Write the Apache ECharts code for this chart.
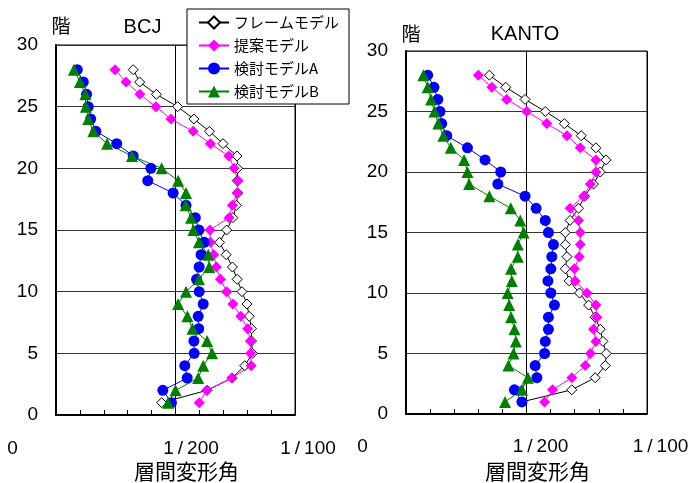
<!DOCTYPE html>
<html>
<head>
<meta charset="utf-8">
<script src="https://cdn.jsdelivr.net/npm/echarts@6/dist/echarts.min.js"></script>
<style>
  html, body { margin: 0; padding: 0; background: #fff; }
  #chart { width: 689px; height: 483px; }
</style>
</head>
<body>
<div id="chart"></div>
<script>
// 階 (floor numbers)
const floors = [1, 2, 3, 4, 5, 6, 7, 8, 9, 10, 11, 12, 13, 14, 15, 16, 17, 18, 19, 20, 21, 22, 23, 24, 25, 26, 27, 28];

const seriesNames = ['フレームモデル', '提案モデル', '検討モデルA', '検討モデルB'];
const panelTitles = ['BCJ', 'KANTO'];
const xTickLabels = ['0', '1/200', '1/100'];

// 層間変形角 in units of 1/1000 rad, floor 1 → 28
// BCJ input motion
const bcjFrame    = [4.42, 6.32, 7.37, 7.90, 8.22, 8.18, 8.18, 8.08, 7.99, 7.78, 7.58, 7.38, 7.12, 6.84, 7.14, 7.40, 7.55, 7.60, 7.58, 7.60, 7.57, 6.99, 6.42, 5.77, 5.09, 4.20, 3.50, 3.23];
const bcjProposed = [5.99, 6.31, 7.35, 8.17, 8.14, 8.13, 8.02, 7.73, 7.40, 7.14, 6.88, 6.71, 6.60, 6.46, 6.44, 7.24, 7.38, 7.58, 7.62, 7.45, 7.23, 6.46, 5.74, 4.81, 4.18, 3.51, 2.93, 2.47];
const bcjModelA   = [4.83, 4.47, 5.49, 5.39, 5.78, 5.77, 5.97, 5.95, 6.16, 5.99, 5.88, 5.99, 6.07, 6.20, 5.98, 5.83, 5.44, 4.90, 3.84, 3.97, 3.23, 2.54, 1.67, 1.45, 1.35, 1.28, 1.14, 0.89];
const bcjModelB   = [4.69, 5.00, 5.95, 6.16, 6.53, 6.32, 5.71, 5.50, 5.11, 5.44, 5.98, 6.41, 6.37, 5.98, 5.75, 5.65, 5.43, 5.44, 5.11, 4.42, 3.18, 2.14, 1.56, 1.35, 1.25, 1.23, 1.00, 0.75];

// KANTO input motion
const kantoFrame    = [4.81, 6.88, 7.85, 8.27, 8.31, 8.17, 8.06, 7.85, 7.58, 7.20, 6.77, 6.61, 6.68, 6.61, 6.61, 6.81, 7.16, 7.41, 7.78, 8.06, 8.30, 7.88, 7.27, 6.57, 5.78, 4.94, 4.14, 3.46];
const kantoProposed = [5.75, 6.08, 6.88, 7.44, 7.65, 7.88, 7.78, 7.92, 7.88, 7.51, 7.02, 6.99, 7.19, 7.23, 7.23, 7.16, 6.81, 7.37, 7.65, 7.88, 7.88, 7.23, 6.68, 5.84, 5.01, 4.18, 3.56, 3.00];
const kantoModelA   = [4.81, 4.50, 5.43, 5.36, 5.75, 5.78, 5.91, 5.91, 6.16, 6.01, 5.89, 6.01, 6.05, 6.12, 5.91, 5.78, 5.40, 4.94, 3.81, 3.93, 3.28, 2.55, 1.69, 1.48, 1.41, 1.32, 1.16, 0.90];
const kantoModelB   = [4.11, 4.81, 5.06, 4.25, 4.46, 4.56, 4.50, 4.36, 4.28, 4.22, 4.39, 4.36, 4.64, 4.64, 4.88, 4.74, 4.35, 3.46, 2.62, 2.55, 2.41, 1.86, 1.55, 1.34, 1.18, 1.04, 0.90, 0.72];

const LATIN = 'Liberation Sans, Arial, sans-serif';
const CJK = 'Noto Sans CJK JP, sans-serif';

const pairs = (values) => floors.map((f, i) => [values[i], f]);

const seriesStyles = [
  { symbol: 'diamond', symbolSize: 10, itemStyle: { color: '#ffffff', borderColor: '#000000', borderWidth: 1 }, lineStyle: { color: '#000000', width: 1 } },
  { symbol: 'diamond', symbolSize: 11, itemStyle: { color: '#ff00ff' }, lineStyle: { color: '#ff00ff', width: 1 } },
  { symbol: 'circle', symbolSize: 11, itemStyle: { color: '#0000ff' }, lineStyle: { color: '#0000ff', width: 1 } },
  { symbol: 'triangle', symbolSize: 12, itemStyle: { color: '#008000' }, lineStyle: { color: '#008000', width: 1 } }
];

const panels = [
  [bcjFrame, bcjProposed, bcjModelA, bcjModelB],
  [kantoFrame, kantoProposed, kantoModelA, kantoModelB]
];

const grids = [
  { left: 56, top: 45, width: 239, height: 370 },
  { left: 406, top: 51, width: 241, height: 363 }
];

function makeXAxis(gridIndex) {
  return {
    gridIndex, type: 'value', min: 0, max: 10, interval: 5,
    axisLine: { show: true, lineStyle: { color: '#000', width: 2 } },
    axisTick: { show: true, inside: true, length: 5, lineStyle: { color: '#000' } },
    minorTick: { show: true, splitNumber: 5, length: 5, lineStyle: { color: '#000' } },
    axisLabel: { show: false },
    splitLine: { show: true, lineStyle: { color: '#000', width: 1 } }
  };
}

function makeYAxis(gridIndex) {
  return {
    gridIndex, type: 'value', min: 0, max: 30, interval: 5,
    axisLine: { show: true, lineStyle: { color: '#000', width: 2 } },
    axisTick: { show: false },
    axisLabel: { show: true, margin: 18, fontSize: 19, fontFamily: LATIN, color: '#000', padding: [5, 0, 0, 0] },
    splitLine: { show: true, lineStyle: { color: '#333', width: 1 } }
  };
}

const series = [];
panels.forEach((panel, p) => {
  panel.forEach((values, s) => {
    series.push(Object.assign({
      name: seriesNames[s], type: 'line',
      xAxisIndex: p, yAxisIndex: p,
      data: pairs(values),
      showAllSymbol: true
    }, seriesStyles[s]));
  });
});

const text = (x, y, str, size, family) => ({
  type: 'text', x, y, z: 10,
  style: { text: str, fontSize: size, fontFamily: family, fill: '#000', align: 'center', verticalAlign: 'middle' }
});

// Fraction tick labels: the slash gets a little breathing room on each side
const tickText = (x, y, str) => {
  const parts = str.split('/');
  const rich = {
    n: { fontSize: 19, fontFamily: LATIN, fill: '#000' },
    s: { fontSize: 19, fontFamily: LATIN, fill: '#000', padding: [0, 4, 0, 4] }
  };
  const content = parts.length === 2 ? '{n|' + parts[0] + '}{s|/}{n|' + parts[1] + '}' : '{n|' + str + '}';
  return {
    type: 'text', x, y, z: 10,
    style: { text: content, rich, fontSize: 19, fontFamily: LATIN, fill: '#000', align: 'center', verticalAlign: 'middle' }
  };
};

const xLabelPos = [
  [[12.5, 449], [191, 449], [308, 449]],
  [[362.5, 447], [540.5, 447], [660.5, 447]]
];

const graphic = [
  text(61, 26, '階', 19, CJK),
  text(142.5, 27.5, panelTitles[0], 20, LATIN),
  text(411, 33.5, '階', 19, CJK),
  text(525, 34.5, panelTitles[1], 20, LATIN),
  text(186.5, 471, '層間変形角', 21, CJK),
  text(537.5, 471, '層間変形角', 21, CJK)
];
xLabelPos.forEach(row => row.forEach((pos, i) => graphic.push(tickText(pos[0], pos[1], xTickLabels[i]))));

const chart = echarts.init(document.getElementById('chart'));
chart.setOption({
  animation: false,
  backgroundColor: '#ffffff',
  grid: grids.map(g => Object.assign({ show: true, borderColor: '#000', borderWidth: 1, backgroundColor: 'transparent' }, g)),
  xAxis: [makeXAxis(0), makeXAxis(1)],
  yAxis: [makeYAxis(0), makeYAxis(1)],
  legend: {
    data: seriesNames,
    orient: 'vertical',
    left: 187, top: 9,
    backgroundColor: '#ffffff',
    borderColor: '#000', borderWidth: 1,
    padding: [6, 10, 5, 11],
    itemWidth: 30, itemHeight: 15, itemGap: 8,
    selectedMode: false,
    textStyle: { fontSize: 15, fontFamily: CJK, color: '#000', lineHeight: 15 }
  },
  graphic,
  series
});
</script>
</body>
</html>
